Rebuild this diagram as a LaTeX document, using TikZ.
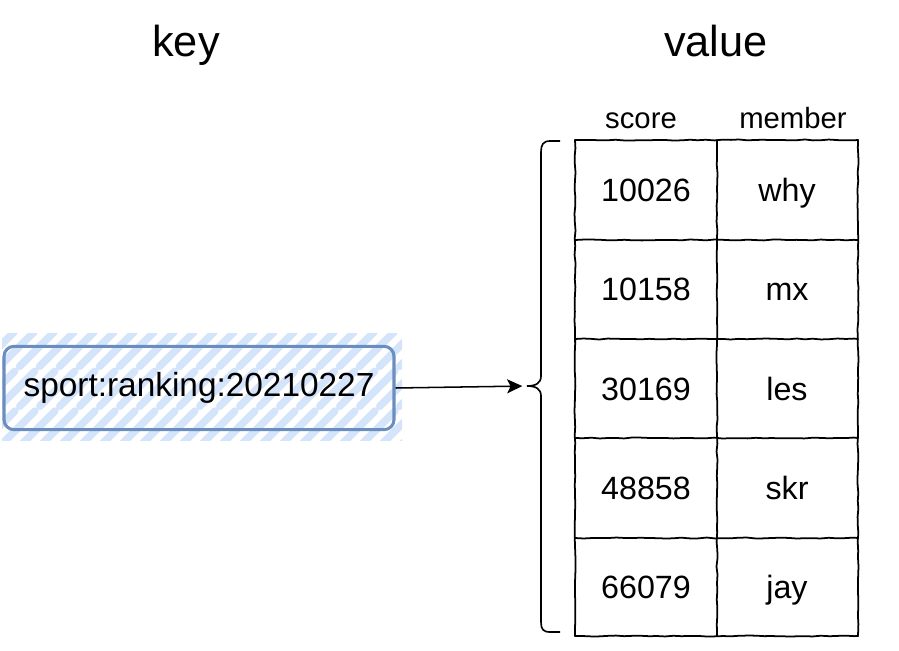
\documentclass[tikz,border=0pt]{standalone}
\usepackage{fontspec}
\setmainfont{Liberation Sans}
\usetikzlibrary{positioning,calc,arrows.meta,decorations.pathmorphing}

\definecolor{keyblue}{HTML}{6C8EBF}
\definecolor{hatchblue}{HTML}{D4E4FA}

\tikzset{
  title/.style={font=\fontsize{37}{44}\selectfont,text height=0.75em,text depth=0.21em},
  colhead/.style={font=\fontsize{25}{30}\selectfont,text height=0.75em,text depth=0.21em},
  celltext/.style={font=\fontsize{27.5}{33}\selectfont,text height=0.75em,text depth=0.21em},
  keybox/.style={draw=keyblue,line width=2.6pt,rounded corners=0.3cm,
    minimum width=11.7cm,minimum height=2.5cm,font=\fontsize{28.5}{34}\selectfont},
  sketch/.style={line width=1.5pt,line cap=round,decorate,
    decoration={random steps,segment length=7pt,amplitude=0.45pt}},
}

\begin{document}
\begin{tikzpicture}[x=0.03cm,y=-0.03cm]
\useasboundingbox (0,0) rectangle (899,651);

\node[title] (keytitle) at (186,53) {key};
\node[title] (valuetitle) at (716,53) {value};

% hatch fill behind the key box
\begin{scope}
\clip (2,333) rectangle (402,440);
\foreach \i in {-6,...,21}
  \draw[hatchblue,line width=6.5pt,line cap=round,dash pattern=on 42pt off 6pt]
    (\i*20,446) -- ++(125,-125);
\end{scope}
\node[keybox] (zkey) at (199,388) {sport:ranking:20210227};

% table
\coordinate (tl) at (575,140);
\coordinate (tr) at (858,140);
\coordinate (bl) at (575,636);
\coordinate (br) at (858,636);
\coordinate (tm) at (717,140);
\coordinate (bm) at (717,636);

\foreach \y in {140,240,339,438,538,636}
  \draw[sketch] (575,\y) -- (858,\y);
\draw[sketch] (tl) -- (bl);
\draw[sketch] (tm) -- (bm);
\draw[sketch] (tr) -- (br);

\node[colhead] (score) at (641,125) {score};
\node[colhead] (member) at (793,125) {member};

\foreach \s/\m [count=\r] in {10026/why,10158/mx,30169/les,48858/skr,66079/jay}{
  \node[celltext] (s\r) at (646,{149+99.2*(\r-0.5)}) {\s};
  \node[celltext] (m\r) at (787,{149+99.2*(\r-0.5)}) {\m};
}

% brace
\coordinate (bracetip) at (527,386);
\draw[line width=1.4pt] (560,141) -- (550,141) .. controls (543,141) and (541,145) .. (541,152)
  -- (541,376) .. controls (541,383) and (536,386) .. (bracetip)
  .. controls (536,386) and (541,389) .. (541,396)
  -- (541,622) .. controls (541,629) and (543,632) .. (550,632) -- (560,632);

\draw[line width=1.3pt,shorten >=4pt,-{Stealth[length=13pt,width=12pt,inset=3pt]}] (zkey.east) -- (bracetip);
\end{tikzpicture}
\end{document}
